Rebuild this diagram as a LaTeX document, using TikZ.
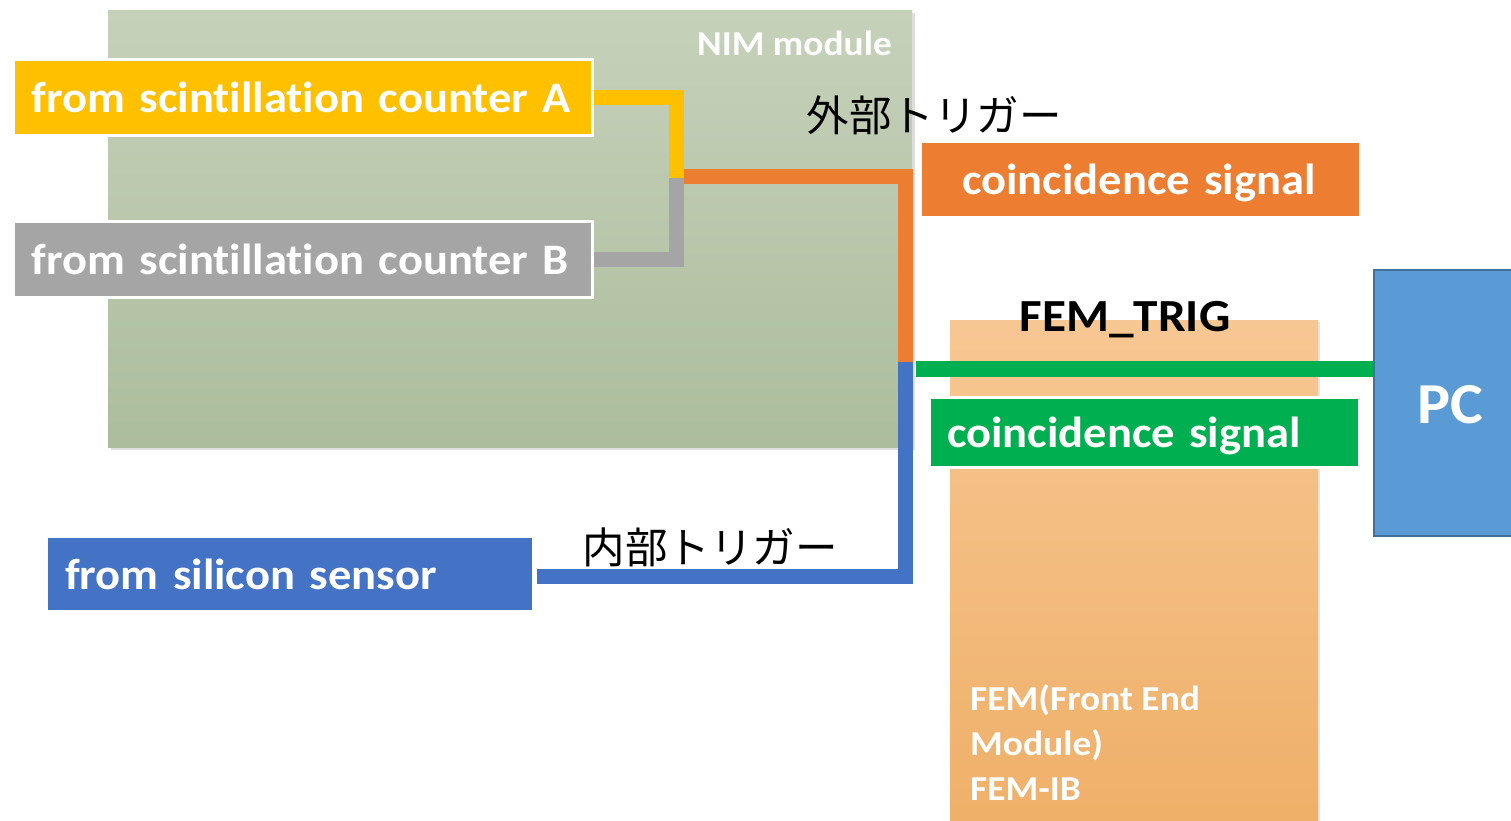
\documentclass[tikz,border=0pt]{standalone}
\usepackage{fontspec}
\setmainfont{Carlito}[Ligatures={NoCommon,NoContextual}, FakeStretch=1.07]
\newfontfamily\jp{Noto Sans CJK JP}
\usetikzlibrary{shadows}
\definecolor{cYel}{RGB}{255,192,0}
\definecolor{cGray}{RGB}{165,165,165}
\definecolor{cOra}{RGB}{237,125,49}
\definecolor{cBlue}{RGB}{68,114,196}
\definecolor{cGreen}{RGB}{0,176,80}
\definecolor{cPC}{RGB}{91,155,213}
\definecolor{cPCb}{RGB}{65,113,156}
\definecolor{nimTop}{RGB}{198,209,186}
\definecolor{nimBot}{RGB}{172,189,157}
\definecolor{femTop}{RGB}{247,199,147}
\definecolor{femBot}{RGB}{239,176,105}
\tikzset{
  sigbox/.style={text=white, font=\bfseries\fontsize{43.5}{50}\selectfont, inner ysep=0pt, text depth=0pt, align=left},
  wire/.style={line width=15pt, line join=miter},
  jptext/.style={font=\jp\fontsize{42.5}{50}\selectfont, text=black, inner sep=0pt},
}
\begin{document}
\begin{tikzpicture}[x=1pt,y=-1pt]
\useasboundingbox (0,0) rectangle (1511,820);
% NIM module
\node[minimum width=804pt, minimum height=437pt, inner sep=0pt, top color=nimTop, bottom color=nimBot,
  drop shadow={shadow xshift=3pt, shadow yshift=-3pt, opacity=0.25}] (nim) at (510,228.5) {};
\node[anchor=east, text=white, font=\bfseries\fontsize{35}{40}\selectfont, inner sep=0pt] (nimlbl) at (892,43) {NIM module};
% FEM
\node[minimum width=368pt, minimum height=500pt, inner sep=0pt, top color=femTop, bottom color=femBot,
  drop shadow={shadow xshift=2pt, shadow yshift=-2pt, opacity=0.2}] (fem) at (1134,570) {};
\node[anchor=north west, align=left, text=white, font=\bfseries\fontsize{35}{45}\selectfont, inner sep=0pt] (femtxt) at (970,684) {FEM(Front End\\Module)\\FEM-IB};
% PC
\node[draw=cPCb, line width=2pt, fill=cPC, minimum width=160pt, minimum height=266pt, inner sep=0pt, anchor=north west] (PC) at (1373,269) {};
\node[text=white, font=\bfseries\fontsize{58}{66}\selectfont, inner sep=0pt] (pctxt) at (1450,405) {PC};
% coordinates
\coordinate (j1) at (676,178);
\coordinate (oS) at (684,176);
\coordinate (j2) at (905,176);
\coordinate (j3) at (905,362);
\coordinate (j4) at (905,576);
\coordinate (g0) at (916,369);
% boxes
\node[sigbox, fill=cYel, draw=white, line width=3pt, inner xsep=18pt, text width=543pt, minimum height=76pt] (A) at (303,97.5) {from scintillation counter A};
\node[sigbox, fill=cGray, draw=white, line width=3pt, inner xsep=18pt, text width=543pt, minimum height=76pt] (B) at (303,259.5) {from scintillation counter B};
\node[sigbox, fill=cBlue, inner xsep=17pt, text width=450pt, minimum height=72pt] (Si) at (290,574) {from silicon sensor};
\node[sigbox, fill=cOra, inner xsep=40pt, text width=357pt, minimum height=73pt] (coE) at (1140.5,179.5) {coincidence signal};
\node[sigbox, fill=cGreen, draw=white, line width=3pt, inner xsep=18pt, text width=394pt, minimum height=70pt] (coG) at (1144,432) {coincidence signal};
% wires
\draw[wire, cYel] (A.east) -| (j1);
\draw[wire, cGray] (B.east) -| (j1);
\draw[wire, cOra] (oS) -- (j2) -- (j3);
\draw[wire, cBlue] ([xshift=5pt]Si.east |- j4) -- (j4) -- (j3);
\draw[wire, line width=16pt, cGreen] (g0) -- (g0 -| PC.west);
% labels
\node[jptext] (ext) at (934,115) {外部トリガー};
\node[jptext] (int) at (710,547) {内部トリガー};
\node[font=\bfseries\fontsize{46}{54}\selectfont, text=black, inner sep=0pt] (femtrig) at (1125,320) {FEM\_TRIG};
\end{tikzpicture}
\end{document}
